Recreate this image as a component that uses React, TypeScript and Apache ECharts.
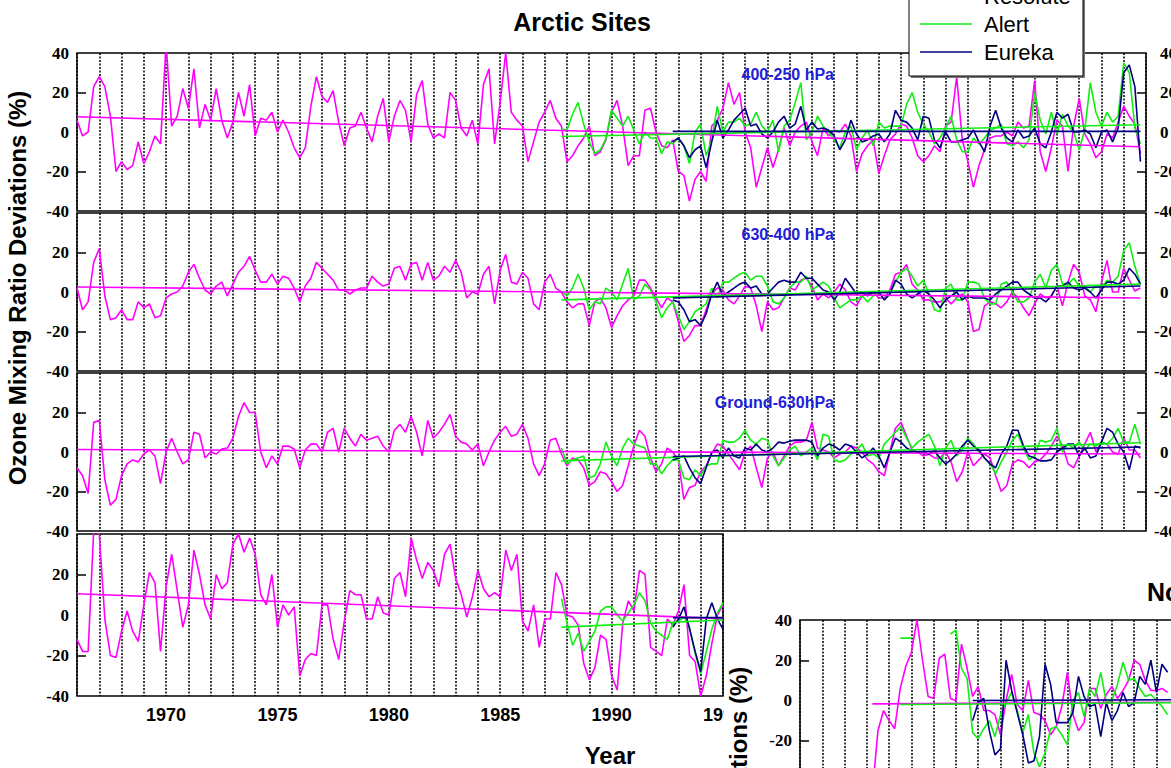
import React, { useEffect, useRef } from "react";
import * as echarts from "echarts";

// ---------- DATA (quarterly steps) ----------
const STEP = 0.25;
const STATIONS = ["Resolute", "Alert", "Eureka"];
const STATION_COLORS = ["#ff00ff", "#11ee11", "#000080"];
const LAYER_LABELS = ["400-250 hPa", "630-400 hPa", "Ground-630hPa"];
const Y_TICK_LABELS = ["40", "20", "0", "-20", "-40"];
const LABELLED_YEARS = [1970, 1975, 1980, 1985, 1990, 1995];

const RESOLUTE_START = 1966;
const ALERT_START = 1987.75;
const EUREKA_START = 1992.75;

// Panel 1: 400-250 hPa
const resolute400to250 = [
  6, -2, 0, 23, 28, 23, 8, -20, -15, -19, -17, -5, -16, -10, -2, -6,
  45, 3, 8, 22, 12, 32, 2, 14, 6, 22, 6, -3, 5, 20, 8, 24,
  -2, 7, 6, 10, 0, 6, 0, -8, -13, -8, 13, 28, 18, 15, 21, 5,
  -7, 2, 3, 10, 2, -5, 8, 17, -5, 8, 16, 11, -5, 19, 26, 4,
  -3, -1, -3, 20, 16, 2, -2, 6, -6, 24, 32, -6, 15, 40, 10, 6,
  3, -15, -5, 5, 10, 16, 7, 3, -15, -12, -7, -3, 3, -12, -10, -4,
  10, 16, 3, -17, -12, -12, 11, 12, 0, -7, -8, -4, -20, -22, -35, -24,
  -20, -25, 3, 6, 12, 25, 14, 20, 0, -8, -28, -18, -8, -18, -9, 2,
  -7, 0, 3, 5, -5, -12, 2, -2, 1, 0, 4, -2, -20, -11, -7, -4,
  -21, -12, -4, -1, 4, 3, -3, -12, -15, -12, -7, -10, 3, 5, 28, -4,
  -15, -28, -17, -9, -3, -2, -2, 0, -2, 5, 2, 3, 26, -10, -20, -8,
  6, 3, -20, 3, 17, -1, -6, -13, -10, -1, -3, 5, 13, 8, 4, -11,
];
const alert400to250 = [
  1.5, 1, 9, 15, 4, -5, -11, -9, -3.5, 11, 7, 3, 8, 1, -6, 0, -3,
  -3, -11, -5, -6, -3, -7, -16, 0, 4, -12, -4, 13, 0, 5, 5, 7,
  3, 4, 10, 3, 0, 6, -10, 3, 6, 15, 25, -4, 0, 8, 3, 0,
  -4, -8, 0, 3, -9, -3, 1, -7, 5, 2, 3, 3, 3, 14, 20, 10,
  4, 0, -6, -3, 2, 8, -4, -10, -10, -3, -6, -3, 1, 2, 4, -6,
  -7, -5, -8, -4, 20, 6, -1, 10, -1, 9, 3, 0, -9, 1, 25, 10,
  3, 10, 5, 8, 35, 30, 2, -6,
];
const eureka400to250 = [
  -5, -3, -7, -13, -9, -7, -18, -5, 6, -3, 1, 6, 9, 12, 3, 4, -1,
  -3, 0, 5, 8, 2, 4, 13, 1, 5, 1.5, 2, 1, -2, -9, -4, 6,
  -1, -5, -4, -2, -1, -5, -1, 11, 6, 5, 2, -4, 8, 7, -4, -8,
  0, -5, -5, -4, -3, 1, -5, -10, 3, 11, 2, -3, -5, 1, -3, -2,
  2, -6, -8, 0, 10, 7, 9, 0, 0, 1, -1, -8, 0, 1, -5, 2,
  30, 34, 23, -15,
];

// Panel 2: 630-400 hPa
const resolute630to400 = [
  2, -9, -5, 15, 22, -2, -14, -13, -9, -14, -14, -5, -8, -6, -13, -12,
  -3, -1, 0, 3, 10, 14, 7, 1, -1, 3, 5, -2, 4, 10, 13, 18,
  11, 5, 5, 9, 4, 8, 7, 2, -5, 3, 7, 15, 12, 9, 6, 1,
  1, -1, 1, 2, 2, 8, 5, 3, 4, 12, 13, 6, 14, 15, 6, 15,
  6, 8, 13, 10, 16, 10, -3, 0, -1, 9, 13, -6, 11, 19, 5, 4,
  10, 7, -6, -9, 5, 9, 2, 0, -5, -8, -6, -6, -17, -5, -3, -8,
  -18, -12, -7, -4, -2, 6, 6, 2, -3, -8, -3, -5, -15, -25, -22, -17,
  -17, -9, -1, 2, 1, -4, -6, -2, 3, 2, -7, -20, -5, -9, -8, -3,
  2, 1, 6, 7, 3, -4, -1, -3, 0, 4, 1, -5, -7, -2, -1, 0,
  -3, -3, 1, 9, 10, 14, 4, 1, -4, -4, -5, -5, -3, -6, -3, -1,
  -5, -20, -19, -7, -5, -6, -8, -5, 0, -3, -8, -12, -6, -1, -3, -2,
  3, -7, 5, 14, 10, -2, -4, -10, 5, 16, 0, 0, 12, 6, 0.5, 2,
];
const alert630to400 = [
  0.5, -2, 2, 9, 2, -9, -5, -6, 2, 0, -4, 4, 12, -4, -2, 4, 1,
  -5, -13, -8, -5, -12, -19, -15, -10, -8, -6, 2, -3, 5, 5, 7, 9,
  10, 6, 8, 8, 3, -5, -6, -3, 2, 5, 5, 8, 1, 3, 5, 3,
  -3, -8, -6, -4, -4, -2, -5, -2, 0, -4, -1, 5, 10, 12, 8, 3,
  6, -1, -9, -10, 2, 4, -4, -4, 5, 5, 4, -3, -6, -6, 4, 5,
  0, -5, -5, -3, 5, 9, 2, 11, 14, 4, 4, 7, 3, 3, 0, 3,
  2, 6, 5, 8, 21, 25, 13, 4,
];
const eureka630to400 = [
  -4, -5, -9, -15, -14, -17, -11, -1, 5, -2, 0, 2, 4, 5, 2, 3, -1,
  -1, 2, 5, 6, 5, 5, 10, 7, 7, 4, 1, 0, -4, 0, 7, 3,
  -1, 0, -2, 0, 0, -4, -1, 6, 4, -1, -3, -1, 1, -1, -4, -8,
  -4, -2, 0, -4, -2, -3, -3, -3, -4, -1, 1, 3, 5, 5, 1, -1,
  -3, -3, -5, -2, 3, 3, 5, 2, 1, 2, 0, -3, 1, 5, 5, 4,
  6, 12, 9, 4,
];

// Panel 3: Ground-630 hPa
const resoluteGroundTo630 = [
  -8, -12, -21, 15, 16, -14, -27, -24, -12, -6, -4, -5, -1, 1, -2, -16,
  0, 7, 0, -6, -4, 10, 9, -3, 0, -1, 1.5, 2, 7, 18, 25, 20,
  20, 0, -8, -2, -6, 3, 3, 1.5, -8, 1, 4, 4, 0, 10, 12, 0,
  12, 7, 3, 9, 6, 7, 8, 3, 0, 11, 14, 10, 18, 10, -2, 16,
  7, 10, 14, 19, 8, 5, 4, 1, 4, -7, 0, 6, 10, 13, 8, 9,
  14, 7, -6, -12, -6, 6, 7, -1, -7, -3, -4, -8, -17, -15, -10, -11,
  -15, -20, -17, -7, 3, 11, 8, -3, -10, -6, 2, 0, -4, -24, -18, -17,
  -10, -7, -1, 4, 3, -1, -5, -9, 0, 3, -8, -18, -3, 0, -7, -2,
  3, 5, 5, 6, 15, 2, 1, 0, -3, -1, 0, 3, 2, 0, -4, -6,
  -10, -12, 0, 12, 15, 8, 1, 0, -2, -1, -3, -3, 0, -5, -15, -10,
  0, -7, -4, -1, -3, -12, -20, -17, -6, -4, -5, -8, -5, -4, -1, 3,
  8, 3, -6, -8, -2, 4, 10, 0, 5, 4, 0, -1, 7, 1, 1, -3,
];
const alertGroundTo630 = [
  2, -6, -4, -3, -2, -13, -12, -6, 5, -2, -7, 2, 7, 4, 3, 2, -6,
  -6, -11, -7, -4, -4, -13, -14, -9, -12, -7, -6, -6, 6, 5, 5, 7,
  11, 6, 4, 7, 6, -2, -7, -3, 1, 3, -2, 0, 2, -4, 9, 8,
  -4, -5, -4, -1, 1, 4, -2, -1, -3, 4, 7, 10, 13, 7, 2, 5,
  7, 9, 3, -7, 2, 6, -2, 1, 7, 4, 0, -3, -6, -11, -5, 0,
  6, 9, 2, -4, -2, 6, 5, 6, 12, 0, 4, 2, 5, 1, 4, 3,
  5, 4, 7, 12, 5, 5, 14, 4,
];
const eurekaGroundTo630 = [
  -4, -3, -2, -8, -13, -16, -8, 0, 1, -3, 2, -2, -3, 2, 1, 4, 1,
  0, 2, 5, 4.5, 5.5, 6, 6, 6, 5, -2, 2, 4, 3, 1, 4, 3,
  0, -3, -1, 2, -2, -8, 0, 7, 5, 2, 0.5, 0, 0, -1, 0.5, -3,
  -6, -4, -1, 3, 6, 3, 1, -3, -6, -8, -1, 3, 11, 11, 3, -2,
  -3, -4.5, -4.5, -4, 0, 2, 4, 4, -2, 2, -3, -2, 5, 12, 10, 4,
  0, -9, 3, 2,
];

// Panel 4 (bottom, to 1995)
const resoluteBottom = [
  -12, -18, -18, 42, 40, -2, -20, -21, -8, 2, -8, -13, 5, 21, 16, -18,
  14, 30, 12, -6, 5, 32, 20, 5, -2, 20, 13, 16, 35, 40, 31, 38,
  30, 10, 5, 20, -6, 5, 0, 4, -30, -22, -19, -20, 5, 5, -12, -22,
  -3, 12, 10, 10, -2, -2, 9, 1, 0, 18, 21, 9, 38, 27, 18, 26,
  22, 14, 30, 35, 18, 10, -1, 9, 22, 13, 9, 11, 9, 32, 22, 30,
  -3, -8, 5, -16, -2, -2, 21, 15, 0, -1, -5, -24, -32, -26, -10, -12,
  -30, -37, -4, 7, 2, 22, 20, -16, -18, -20, -2, -5, 2, 15, -20, -23,
  -40, -30, -14, 0, 5,
];
const alertBottom = [
  8, -4, -15, -9, -18, -13, -8, 2, 4, 4, 0, -3, 1, 5, 11, 7, -4,
  -8, -10, -12, -4, -3, -1, -6, -19, -29, -18, -7, 1, 6,
];
const eurekaBottom = [-6, -2, 4, -7, -18, -28, -2, 6, -2, -7];

// Linear trends [start value, end value]
const resoluteTrends = [[7.7, -7.5], [2.5, -3], [1.3, -1], [10.5, -1.8]];
const alertTrends = [[-2.3, 3.7], [-4, 4], [-4.5, 4.7], [-6, -2.5]];
const eurekaTrends = [[0.3, 0.3], [-3, 3], [-2.3, 2.5], [-1.3, -1.3]];

// Second (partly visible) chart at lower right
const RIGHT_RESOLUTE_START = 1969.25;
const RIGHT_ALERT_START = 1970.5;
const RIGHT_EUREKA_START = 1973.75;
const rightResolute = [
  -45, -15, -5, -10, -14, 6, 17, 24, 40, 20, 2, 1, 21, 23, 1, 0, 28, 16, 2,
  7, -5, -5, -7, -17, 0, 13, -2, -5, 10, -6, -7, -10, -17, -13, -3, 14, -7,
  -15, -11, 6, 6, -4, 3, 7, 1, 5, 10, 20, 18, 10, 5, 5, 6, 4,
];
const rightAlert = [
  31, 31, 31, null, null, null, null, null, null, 33, 35, 16, 11, -16, -19,
  -14, -10, -18, -7, -1, 4, -5, -16, -7, -26, -33, -26, -14, -13, -17, -22,
  0, 4, -8, 6, 2, 14, -1, 0, 8, 19, 10, 11, 6, 2, 3, 0, -3, -7,
];
const rightEureka = [
  -10, -1, 1, -15, -27, -24, 20, 5, -6, -17, -31, -30, -18, 18, 8, -11, -11,
  -11, -6, 12, 2, -3, -2, -18, -1, -10, -5, 4, -3, -1, 12, 8, 20, 4, 18, 14,
];
const rightTrends = [[-1.7, -0.8], [-2, -1], [0, 0.4]];

// ---------- LAYOUT ----------
const SANS = '"Liberation Sans", Arial, sans-serif';
const SERIF = '"Liberation Serif", "Times New Roman", serif';

const toPairs = (start: number, vals: (number | null)[]) =>
  vals.map((v, i) => [start + i * STEP, v]);
const endOf = (start: number, vals: unknown[]) => start + (vals.length - 1) * STEP;

export default function App() {
  const ref = useRef<HTMLDivElement>(null);

  useEffect(() => {
    if (!ref.current) return;
    const chart = echarts.init(ref.current, undefined, { renderer: "svg" });

    const panelGrids = [
      { left: 77, top: 53, width: 1069, height: 158 },
      { left: 77, top: 213, width: 1069, height: 158 },
      { left: 77, top: 373, width: 1069, height: 158 },
      { left: 77, top: 534, width: 646, height: 162 },
      { left: 800, top: 620, width: 401, height: 161 },
    ];
    const xMax = [2014, 2014, 2014, 1995, 1984];

    const grid = panelGrids.map((g) => ({
      ...g,
      show: true,
      borderColor: "#000",
      borderWidth: 1.5,
      backgroundColor: "transparent",
    }));

    const xAxis = panelGrids.map((_, i) => ({
      type: "value",
      gridIndex: i,
      min: 1966,
      max: xMax[i],
      interval: 1,
      axisLine: { show: false },
      axisTick: { show: false },
      axisLabel: {
        show: i === 3,
        margin: 10,
        color: "#000",
        fontFamily: SANS,
        fontWeight: "bold",
        fontSize: 18,
        formatter: (v: number) =>
          LABELLED_YEARS.includes(Math.round(v)) ? String(Math.round(v)) : "",
      },
      splitLine: {
        show: true,
        lineStyle: { color: "#000", width: 1.5, type: [2, 1.5] },
      },
    }));

    const yLeft = panelGrids.map((_, i) => ({
      type: "value",
      gridIndex: i,
      min: -40,
      max: 40,
      interval: 20,
      axisLine: { show: false },
      axisTick: {
        show: true,
        inside: true,
        length: 9,
        customValues: [-20, 20],
        lineStyle: { color: "#000", width: 1.5 },
      },
      axisLabel: {
        color: "#000",
        fontFamily: SERIF,
        fontWeight: "bold",
        fontSize: 17,
        margin: 8,
        // the top label of a lower panel sits under the "-40" of the panel above
        formatter: (v: number) =>
          v === 40 && i >= 1 && i <= 3 ? "" : String(v),
      },
      splitLine: { show: false },
    }));
    const yRight = [0, 1, 2].map((i) => ({
      type: "value",
      gridIndex: i,
      position: "right",
      min: -40,
      max: 40,
      interval: 20,
      axisLine: { show: false },
      axisTick: {
        show: true,
        inside: true,
        length: 9,
        customValues: [-20, 20],
        lineStyle: { color: "#000", width: 1.5 },
      },
      axisLabel: { show: false },
      splitLine: { show: false },
    }));
    const yAxis = [...yLeft, ...yRight];

    const series: any[] = [];
    const addLine = (
      p: number,
      data: any[],
      color: string,
      width: number,
      z: number
    ) =>
      series.push({
        type: "line",
        xAxisIndex: p,
        yAxisIndex: p,
        data,
        showSymbol: false,
        symbol: "none",
        silent: true,
        clip: true,
        connectNulls: false,
        z,
        lineStyle: { color, width },
      });

    const panelData = [
      [resolute400to250, alert400to250, eureka400to250],
      [resolute630to400, alert630to400, eureka630to400],
      [resoluteGroundTo630, alertGroundTo630, eurekaGroundTo630],
      [resoluteBottom, alertBottom, eurekaBottom],
    ];
    const starts = [RESOLUTE_START, ALERT_START, EUREKA_START];
    const trends = [resoluteTrends, alertTrends, eurekaTrends];

    panelData.forEach((sets, p) => {
      sets.forEach((vals, s) => {
        addLine(p, toPairs(starts[s], vals), STATION_COLORS[s], 1.6, 2 + s);
      });
      sets.forEach((vals, s) => {
        const t = trends[s][p];
        addLine(
          p,
          [
            [starts[s], t[0]],
            [endOf(starts[s], vals), t[1]],
          ],
          STATION_COLORS[s],
          1.6,
          5 + s
        );
      });
    });

    const rightSets = [rightResolute, rightAlert, rightEureka];
    const rightStarts = [RIGHT_RESOLUTE_START, RIGHT_ALERT_START, RIGHT_EUREKA_START];
    rightSets.forEach((vals, s) =>
      addLine(4, toPairs(rightStarts[s], vals), STATION_COLORS[s], 1.6, 2 + s)
    );
    rightSets.forEach((vals, s) =>
      addLine(
        4,
        [
          [rightStarts[s], rightTrends[s][0]],
          [1984, rightTrends[s][1]],
        ],
        STATION_COLORS[s],
        1.6,
        5 + s
      )
    );

    // texts & decorations
    const graphics: any[] = [];
    const txt = (
      text: string,
      x: number,
      y: number,
      font: string,
      align = "center",
      fill = "#000",
      extra: any = {}
    ) =>
      graphics.push({
        type: "text",
        x,
        y,
        z: 120,
        silent: true,
        ...extra,
        style: { text, font, fill, align, verticalAlign: "middle" },
      });

    txt("Arctic Sites", 582, 22, `bold 25px ${SANS}`);
    txt("Ozone Mixing Ratio Deviations (%)", 17, 288, `bold 24px ${SANS}`, "center", "#000", {
      rotation: Math.PI / 2,
    });
    txt("Year", 610, 755, `bold 24px ${SANS}`);

    const labelPos = [
      [834, 74],
      [834, 234],
      [834, 402],
    ];
    LAYER_LABELS.forEach((l, i) =>
      txt(l, labelPos[i][0], labelPos[i][1], `bold 16px ${SANS}`, "right", "#2020d8")
    );

    // labels of the neighbouring chart at the right edge
    [0, 1, 2].forEach((p) => {
      const g = panelGrids[p];
      Y_TICK_LABELS.forEach((lab, k) => {
        if (k === 0 && p > 0) return;
        const y = g.top + (k * g.height) / 4;
        const x = lab.startsWith("-") ? 1154 : 1160;
        txt(lab, x, y, `bold 17px ${SERIF}`, "left");
      });
    });

    // white cover over right half of the clipped 1995 label
    graphics.push({
      type: "rect",
      z: 110,
      silent: true,
      shape: { x: 723.8, y: 700, width: 60, height: 32 },
      style: { fill: "#fff" },
    });

    // neighbouring chart title and axis name (partly visible)
    txt("No", 1147, 592, `bold 25px ${SANS}`, "left");
    txt("Ozone Mixing Ratio Deviations (%)", 738, 864, `bold 24px ${SANS}`, "center", "#000", {
      rotation: Math.PI / 2,
    });

    // legend box
    graphics.push({
      type: "rect",
      z: 115,
      silent: true,
      shape: { x: 911, y: -30, width: 174, height: 108 },
      style: { fill: "#777" },
    });
    graphics.push({
      type: "rect",
      z: 116,
      silent: true,
      shape: { x: 909, y: -30, width: 174, height: 106 },
      style: { fill: "#fff", stroke: "#000", lineWidth: 1 },
    });
    const legendY = [-4, 24, 52];
    STATIONS.forEach((name, i) => {
      graphics.push({
        type: "line",
        z: 117,
        silent: true,
        shape: { x1: 920, y1: legendY[i], x2: 972, y2: legendY[i] },
        style: { stroke: STATION_COLORS[i], lineWidth: 1.5 },
      });
      txt(name, 984, legendY[i], `22px ${SANS}`, "left");
    });

    chart.setOption({
      animation: false,
      backgroundColor: "#fff",
      grid,
      xAxis,
      yAxis,
      series,
      graphic: { elements: graphics },
    });

    return () => chart.dispose();
  }, []);

  return (
    <div
      style={{
        position: "absolute",
        left: 0,
        top: 0,
        width: 1171,
        height: 768,
        overflow: "hidden",
        background: "#fff",
      }}
    >
      <div ref={ref} style={{ width: 1260, height: 800 }} />
    </div>
  );
}
